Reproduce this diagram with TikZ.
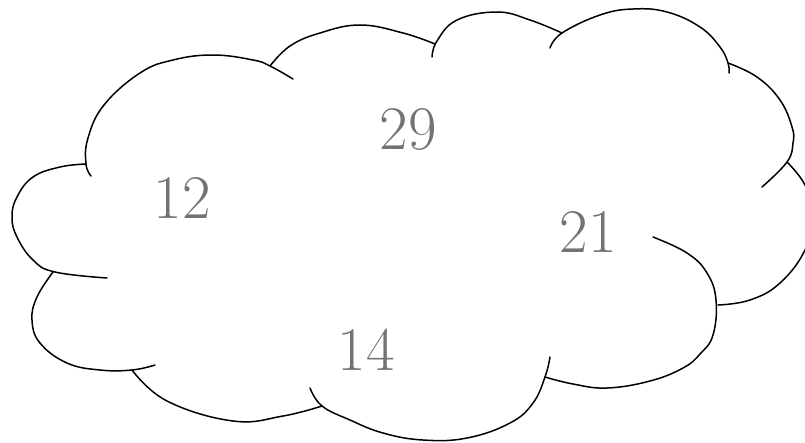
\documentclass[tikz,border=0pt]{standalone}
\begin{document}
\begin{tikzpicture}[x=1pt,y=-1pt,
  lobe/.style={draw=black, line width=1.5pt, line cap=round},
  num/.style={inner sep=0pt, text=black!55, font=\fontsize{62}{62}\selectfont}]
\useasboundingbox (0,0) rectangle (805,442);
\clip (0,0) rectangle (805,442);
\draw[lobe] plot[smooth, tension=0.7] coordinates {(91,176) (86,164) (88,138) (104,105) (140,73) (173,60) (213,55) (253,60) (270,66) (293,79)};
\draw[lobe] plot[smooth, tension=0.7] coordinates {(270,66) (290,46) (320,33) (360,25) (403,33) (435,44)};
\draw[lobe] plot[smooth, tension=0.7] coordinates {(432,57) (437,41) (457,20) (497,12) (530,20) (562,33)};
\draw[lobe] plot[smooth, tension=0.7] coordinates {(550,48) (562,33) (600,15) (633,9) (667,12) (700,27) (720,47) (728,63) (729,73)};
\draw[lobe] plot[smooth, tension=0.7] coordinates {(728,63) (757,77) (780,100) (792,127) (793,143) (787,162) (762,187)};
\draw[lobe] plot[smooth, tension=0.7] coordinates {(787,162) (805,185) (813,215) (805,250) (780,283) (750,300) (718,305)};
\draw[lobe] plot[smooth, tension=0.7] coordinates {(653,237) (687,253) (707,273) (716,300) (713,335) (700,354) (683,368) (650,381) (607,388) (573,384) (545,377)};
\draw[lobe] plot[smooth, tension=0.7] coordinates {(550,357) (545,377) (533,403) (510,423) (467,438) (423,440) (383,433) (350,420) (322,406) (310,388)};
\draw[lobe] plot[smooth, tension=0.7] coordinates {(132,370) (167,401) (233,421) (283,416) (322,406)};
\draw[lobe] plot[smooth, tension=0.7] coordinates {(53,272) (37,297) (32,320) (40,343) (67,363) (100,370) (132,370) (155,365)};
\draw[lobe] plot[smooth, tension=0.7] coordinates {(107,278) (55,272) (33,260) (17,237) (12,217) (17,197) (33,177) (60,167) (86,164)};
\node[num] (n29) at (408,130) {29};
\node[num] (n12) at (182,198) {12};
\node[num] (n21) at (588,232) {21};
\node[num] (n14) at (366,350) {14};
\end{tikzpicture}
\end{document}
